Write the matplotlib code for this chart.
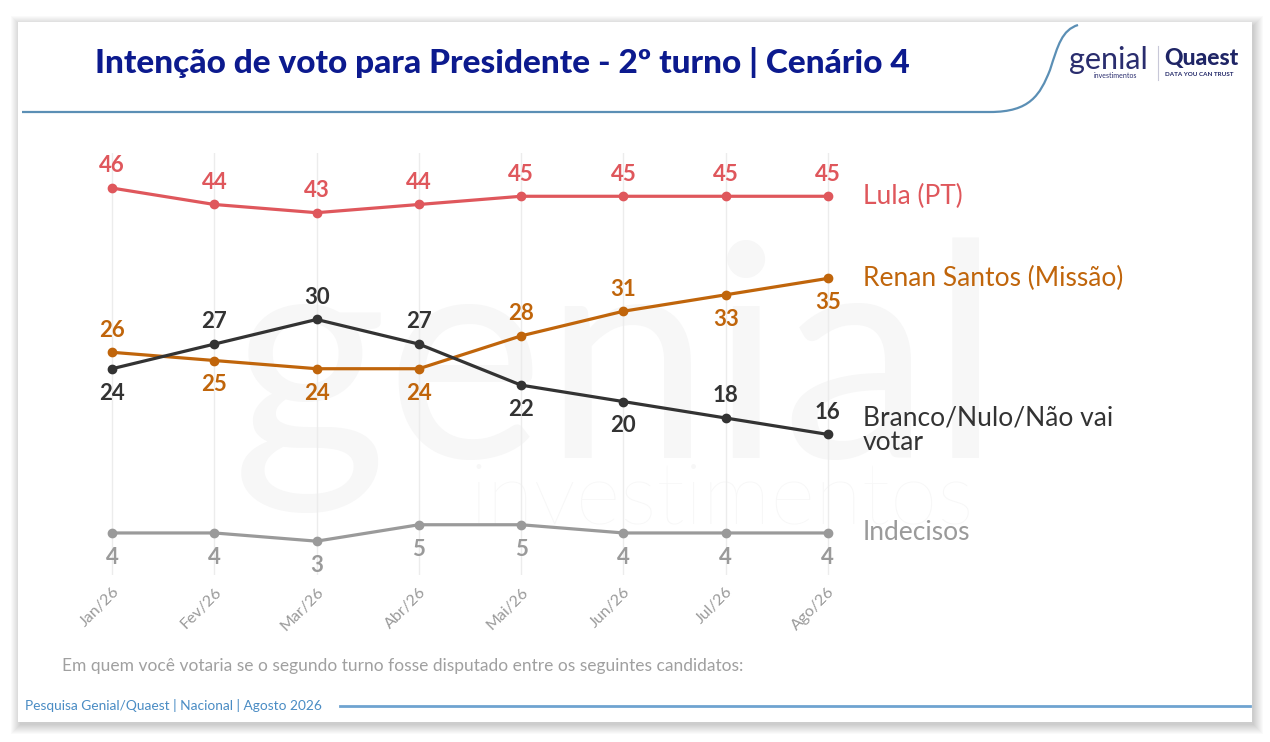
import matplotlib
matplotlib.use('Agg')
import matplotlib.pyplot as plt
from matplotlib.patches import PathPatch, Rectangle
from matplotlib.path import Path

plt.rcParams['font.family'] = ['Lato', 'DejaVu Sans']

# ---------------- data ----------------
months = ['Jan/26', 'Fev/26', 'Mar/26', 'Abr/26', 'Mai/26', 'Jun/26', 'Jul/26', 'Ago/26']
lula = [46, 44, 43, 44, 45, 45, 45, 45]
renan = [26, 25, 24, 24, 28, 31, 33, 35]
branco = [24, 27, 30, 27, 22, 20, 18, 16]
indecisos = [4, 4, 3, 5, 5, 4, 4, 4]
series_names = ['Lula (PT)', 'Renan Santos (Missão)', 'Branco/Nulo/Não vai\nvotar', 'Indecisos']
lula_pos = ['above'] * 8
renan_pos = ['above', 'below', 'below', 'below', 'above', 'above', 'below', 'below']
branco_pos = ['below', 'above', 'above', 'above', 'below', 'below', 'above', 'above']
indecisos_pos = ['below'] * 8
title = 'Intenção de voto para Presidente - 2º turno | Cenário 4'
question = 'Em quem você votaria se o segundo turno fosse disputado entre os seguintes candidatos:'
source = 'Pesquisa Genial/Quaest | Nacional | Agosto 2026'

colors = ['#df575c', '#c0650b', '#333333', '#9a9a9a']

W, H = 1270, 742
fig = plt.figure(figsize=(12.7, 7.42), dpi=100)
fig.patch.set_facecolor('white')

# background / decoration axes in pixel coords
bg = fig.add_axes([0, 0, 1, 1])
bg.set_xlim(0, W)
bg.set_ylim(H, 0)
bg.axis('off')

# card shadow
for i in range(10):
    bg.add_patch(Rectangle((18 - i + 2, 22 - i + 3), 1234 + 2 * i, 700 + 2 * i,
                           facecolor='#000000', edgecolor='none', alpha=0.018, zorder=0))
bg.add_patch(Rectangle((18, 22), 1234, 700, facecolor='white', edgecolor='none', zorder=1))

# header line with curve
verts = [(22, 112), (990, 112), (1030, 112), (1040, 95), (1050, 70),
         (1058, 45), (1062, 30), (1078, 25)]
codes = [Path.MOVETO, Path.LINETO, Path.CURVE4, Path.CURVE4, Path.CURVE4,
         Path.CURVE4, Path.CURVE4, Path.CURVE4]
bg.add_patch(PathPatch(Path(verts, codes), facecolor='none', edgecolor='#5b8fb5', lw=1.6, zorder=2))

# footer line
bg.plot([340, 1250], [706, 706], color='#6fa3d0', lw=2, zorder=2)

# watermark
bg.text(617, 375, 'genial', fontsize=215, color='#f7f7f7', ha='center', va='center', zorder=1.5)
bg.text(722, 500, 'investimentos', fontsize=62, color='#f7f7f7', ha='center', va='center',
        zorder=1.5, fontweight='light')

# title
bg.text(95, 63, title, color='#0c1a8e', fontsize=24, fontweight='black', va='center', ha='left', zorder=3)

# logo
bg.text(1069, 60, 'genial', color='#2a2d6e', fontsize=22, ha='left', va='center', zorder=3)
bg.text(1094, 76, 'investimentos', color='#2a2d6e', fontsize=5, ha='left', va='center', zorder=3)
bg.plot([1158, 1158], [46, 80], color='#c8c8d8', lw=0.8, zorder=3)
bg.text(1164, 59, 'Quaest', color='#1f2566', fontsize=16.5, fontweight='black', ha='left', va='center', zorder=3)
bg.text(1165, 75, 'DATA YOU CAN TRUST', color='#1f2566', fontsize=4.5, fontweight='bold',
        ha='left', va='center', zorder=3)

# footer texts
bg.text(62, 666, question, color='#a0a0a0', fontsize=12.5, ha='left', va='center', zorder=3)
bg.text(25, 706, source, color='#4a8cc4', fontsize=9.9, ha='left', va='center', zorder=3)

# ---------------- chart ----------------
ax = fig.add_axes([61 / W, (H - 575) / H, 818 / W, 422 / H])
ax.patch.set_alpha(0)
ax.set_xlim(-0.5, 7.5)
ax.set_ylim(-1.12, 50.27)
x = list(range(len(months)))
ax.set_xticks(x)
ax.set_xticklabels(months, rotation=45, ha='right', va='top', rotation_mode='anchor',
                   color='#9a9a9a', fontsize=11.5)
ax.tick_params(axis='x', length=0, pad=7)
ax.set_yticks([])
ax.grid(axis='x', color='#ececec', lw=1)
for s in ax.spines.values():
    s.set_visible(False)

all_series = [lula, renan, branco, indecisos]
all_pos = [lula_pos, renan_pos, branco_pos, indecisos_pos]
label_dy = [0, 0, 3, 0]
for vals, pos, col, name, ldy in zip(all_series, all_pos, colors, series_names, label_dy):
    ax.plot(x, vals, color=col, lw=2.3, marker='o', markersize=6, clip_on=False, zorder=4)
    for xi, v, p in zip(x, vals, pos):
        off = 16 if p == 'above' else -17.5
        ax.annotate(str(v), (xi, v), xytext=(0, off), textcoords='offset points',
                    ha='center', va='center', color=col, fontsize=16, fontweight='bold', zorder=5)
    ax.annotate(name, (x[-1], vals[-1]), xytext=(25, ldy), textcoords='offset points',
                ha='left', va='center', color=col, fontsize=19, linespacing=0.95, annotation_clip=False)

fig.savefig('out.png', dpi=100, facecolor='white')
